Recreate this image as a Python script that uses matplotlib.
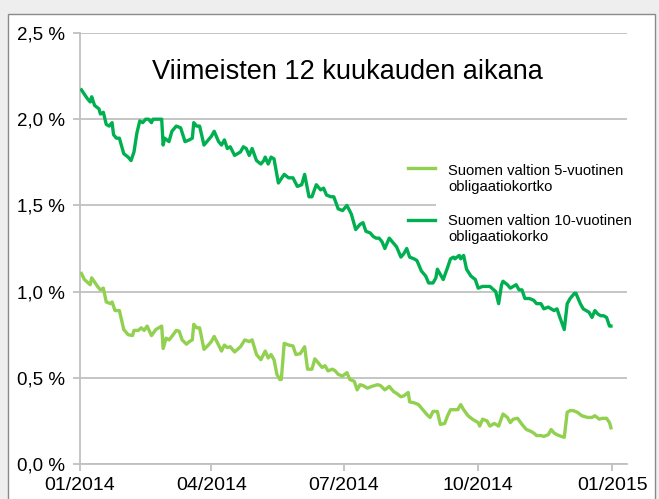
import numpy as np
import pandas as pd
import matplotlib
matplotlib.use("Agg")
import matplotlib.pyplot as plt
import matplotlib.dates as mdates
from matplotlib.lines import Line2D
from matplotlib.patches import Rectangle

plt.rcParams['font.family'] = ['Liberation Sans', 'DejaVu Sans']

# päivät vuoden 2014 alusta ja korko (%)
paivat_10v = [1, 5, 7, 8, 10, 13, 14, 16, 18, 20, 22, 23, 25, 27, 30, 33, 35, 37, 39, 41,
              43, 45, 47, 49, 50, 53, 56, 57, 58, 61, 63, 66, 69, 72, 75, 77, 78, 80, 82, 85,
              88, 90, 92, 95, 97, 99, 101, 103, 106, 110, 112, 114, 116, 118, 121, 124, 126, 127, 129, 131,
              133, 136, 140, 143, 146, 149, 152, 154, 157, 159, 162, 165, 167, 169, 172, 174, 177, 180, 183, 186,
              189, 192, 194, 196, 199, 201, 203, 205, 207, 209, 212, 215, 217, 220, 222, 224, 226, 229, 231, 234,
              237, 239, 242, 244, 245, 247, 249, 252, 254, 256, 257, 260, 261, 263, 265, 268, 271, 273, 276, 279,
              281, 285, 287, 289, 290, 293, 295, 297, 299, 301, 303, 305, 308, 311, 313, 316, 318, 321, 325, 327,
              329, 332, 334, 336, 339, 340, 343, 345, 349, 351, 353, 355, 357, 359, 361, 363, 364]
korko_10v = [2.17, 2.12, 2.10, 2.13, 2.08, 2.06, 2.03, 2.04, 1.97, 1.96, 1.98, 1.91, 1.89, 1.89, 1.80, 1.78, 1.76, 1.81, 1.92, 1.99,
             1.98, 2.00, 2.00, 1.98, 2.00, 2.00, 2.00, 1.85, 1.89, 1.87, 1.93, 1.96, 1.95, 1.87, 1.88, 1.89, 1.98, 1.96, 1.96, 1.85,
             1.88, 1.90, 1.93, 1.87, 1.85, 1.88, 1.83, 1.84, 1.79, 1.81, 1.84, 1.83, 1.79, 1.83, 1.76, 1.74, 1.76, 1.78, 1.74, 1.78,
             1.77, 1.63, 1.68, 1.66, 1.66, 1.61, 1.62, 1.68, 1.55, 1.55, 1.62, 1.59, 1.60, 1.56, 1.55, 1.55, 1.48, 1.47, 1.50, 1.45,
             1.36, 1.39, 1.40, 1.35, 1.34, 1.32, 1.31, 1.31, 1.29, 1.25, 1.31, 1.28, 1.26, 1.20, 1.22, 1.25, 1.20, 1.19, 1.18, 1.12,
             1.09, 1.05, 1.05, 1.08, 1.13, 1.10, 1.07, 1.14, 1.19, 1.20, 1.19, 1.21, 1.19, 1.21, 1.13, 1.09, 1.07, 1.02, 1.03, 1.03,
             1.03, 1.00, 0.93, 1.04, 1.06, 1.04, 1.02, 1.03, 1.04, 1.01, 1.01, 0.96, 0.96, 0.95, 0.93, 0.93, 0.90, 0.91, 0.89, 0.90,
             0.85, 0.78, 0.93, 0.96, 0.99, 0.99, 0.93, 0.90, 0.88, 0.85, 0.89, 0.87, 0.86, 0.86, 0.85, 0.80, 0.80]

paivat_5v = [1, 3, 7, 8, 12, 14, 16, 18, 21, 22, 24, 27, 30, 33, 36, 37, 40, 42, 44, 46,
             49, 52, 56, 57, 59, 61, 63, 66, 68, 70, 73, 75, 77, 78, 80, 82, 85, 88, 90, 92,
             95, 97, 99, 101, 103, 106, 110, 113, 116, 118, 121, 124, 127, 129, 131, 133, 135, 137, 138, 140,
             143, 146, 148, 151, 154, 156, 159, 161, 164, 166, 168, 170, 173, 175, 177, 180, 183, 185, 188, 190,
             192, 194, 197, 200, 204, 206, 209, 212, 215, 217, 220, 222, 225, 226, 229, 232, 236, 238, 240, 242,
             245, 247, 250, 252, 254, 257, 259, 261, 263, 266, 269, 271, 273, 274, 276, 279, 281, 284, 287, 290,
             293, 295, 297, 300, 303, 306, 309, 311, 313, 316, 318, 321, 323, 325, 327, 330, 332, 334, 336, 338,
             341, 344, 348, 351, 353, 356, 358, 361, 363, 364]
korko_5v = [1.105, 1.07, 1.04, 1.08, 1.03, 1.01, 1.02, 0.94, 0.93, 0.94, 0.89, 0.89, 0.78, 0.75, 0.745, 0.775, 0.775, 0.79, 0.775, 0.80,
            0.745, 0.78, 0.80, 0.67, 0.73, 0.72, 0.74, 0.775, 0.77, 0.72, 0.695, 0.71, 0.72, 0.81, 0.79, 0.79, 0.665, 0.69, 0.71, 0.74,
            0.69, 0.655, 0.69, 0.675, 0.68, 0.65, 0.68, 0.72, 0.71, 0.72, 0.635, 0.605, 0.655, 0.615, 0.635, 0.605, 0.52, 0.49, 0.49, 0.70,
            0.69, 0.685, 0.635, 0.64, 0.68, 0.55, 0.55, 0.61, 0.58, 0.56, 0.57, 0.54, 0.55, 0.54, 0.52, 0.51, 0.53, 0.49, 0.48, 0.43,
            0.46, 0.455, 0.44, 0.45, 0.46, 0.455, 0.43, 0.45, 0.42, 0.41, 0.39, 0.395, 0.415, 0.36, 0.355, 0.345, 0.305, 0.285, 0.27, 0.305,
            0.305, 0.23, 0.235, 0.28, 0.315, 0.315, 0.315, 0.345, 0.315, 0.28, 0.26, 0.25, 0.24, 0.22, 0.26, 0.25, 0.22, 0.235, 0.22, 0.29,
            0.27, 0.24, 0.26, 0.265, 0.23, 0.20, 0.19, 0.18, 0.165, 0.165, 0.16, 0.17, 0.20, 0.18, 0.17, 0.16, 0.155, 0.30, 0.31, 0.31,
            0.30, 0.28, 0.27, 0.27, 0.28, 0.26, 0.265, 0.265, 0.24, 0.21]

otsikko = "Viimeisten 12 kuukauden aikana"
selite_5v = "Suomen valtion 5-vuotinen\nobligaatiokortko"
selite_10v = "Suomen valtion 10-vuotinen\nobligaatiokorko"
y_tikit = [0.0, 0.5, 1.0, 1.5, 2.0, 2.5]
x_tikit = ["2014-01-01", "2014-04-01", "2014-07-01", "2014-10-01", "2015-01-01"]

alku = pd.Timestamp("2014-01-01")
pvm_10v = alku + pd.to_timedelta(paivat_10v, unit="D")
pvm_5v = alku + pd.to_timedelta(paivat_5v, unit="D")

VIHREA = "#00b050"
VAALEA = "#92d050"
HARMAA = "#c0c0c0"

W, H = 659, 499
fig = plt.figure(figsize=(W / 100, H / 100), dpi=100, facecolor="#eeeeee")

# kehys
fig.add_artist(Rectangle((8 / W, -0.05), 647 / W, 1 - 14 / H + 0.05, transform=fig.transFigure,
                         facecolor="white", edgecolor="#8a8a8a", linewidth=1.0, zorder=0))

ax = fig.add_axes([80 / W, 35 / H, 547 / W, 431 / H])
ax.set_facecolor("none")
ax.set_axisbelow(True)

ax.plot(pvm_5v, korko_5v, color=VAALEA, linewidth=2.4, zorder=3, solid_joinstyle="round")
ax.plot(pvm_10v, korko_10v, color=VIHREA, linewidth=2.4, zorder=3, solid_joinstyle="round")

ax.set_ylim(0, 2.5)
ax.set_xlim(alku, pd.Timestamp("2015-01-11"))
ax.set_yticks(y_tikit)
ax.set_yticklabels([f"{v:.1f} %".replace(".", ",") for v in y_tikit])
ax.set_xticks(pd.to_datetime(x_tikit))
ax.xaxis.set_major_formatter(mdates.DateFormatter("%m/%Y"))

ax.grid(axis="y", color=HARMAA, linewidth=1.3)
for s in ["top", "right"]:
    ax.spines[s].set_visible(False)
for s in ["left", "bottom"]:
    ax.spines[s].set_color(HARMAA)
    ax.spines[s].set_linewidth(1.3)
ax.tick_params(axis="both", colors=HARMAA, length=5, width=1.3, labelcolor="black")
ax.tick_params(axis="y", pad=6, labelsize=13.5)
ax.tick_params(axis="x", pad=4, labelsize=14)

# selitteen valkoinen tausta peittää ruudukon
ax.add_patch(Rectangle((436 / W, 1 - 250 / H), 220 / W, 95 / H, transform=fig.transFigure,
                       facecolor="white", edgecolor="none", zorder=1))

fig.text(347 / W, 1 - 72 / H, otsikko, ha="center", va="center", fontsize=19.5)

for y_viiva, y_teksti, vari, teksti in [(168, 179, VAALEA, selite_5v), (220, 229, VIHREA, selite_10v)]:
    fig.add_artist(Line2D([408 / W, 435 / W], [1 - y_viiva / H] * 2, color=vari, linewidth=2.4,
                          transform=fig.transFigure))
    fig.text(448 / W, 1 - y_teksti / H, teksti, ha="left", va="center", fontsize=10.6, linespacing=1.2)

fig.savefig("out.png", dpi=100, facecolor=fig.get_facecolor())
